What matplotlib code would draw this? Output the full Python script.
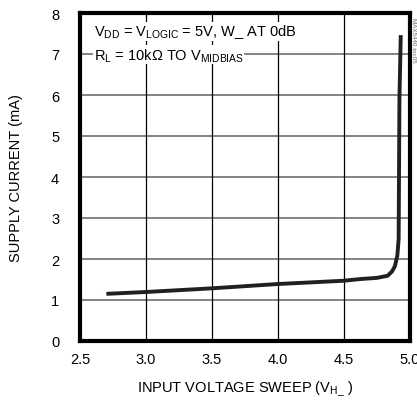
import numpy as np
import matplotlib
matplotlib.use('Agg')
import matplotlib.pyplot as plt

plt.rcParams['font.family'] = ['Liberation Sans Narrow', 'Liberation Sans', 'DejaVu Sans']
plt.rcParams['mathtext.fontset'] = 'custom'
plt.rcParams['mathtext.rm'] = 'Liberation Sans'

# supply current vs input voltage sweep
v_in = [2.70, 3.00, 3.50, 4.00, 4.25, 4.50, 4.62, 4.75, 4.83, 4.865, 4.886, 4.904, 4.914, 4.92, 4.93]
i_supply = [1.15, 1.195, 1.285, 1.39, 1.43, 1.47, 1.51, 1.54, 1.59, 1.70, 1.83, 2.08, 2.49, 5.90, 7.46]

x_ticks = [2.5, 3.0, 3.5, 4.0, 4.5, 5.0]
x_labels = ['2.5', '3.0', '3.5', '4.0', '4.5', '5.0']
y_ticks = [0, 1, 2, 3, 4, 5, 6, 7, 8]

fig = plt.figure(figsize=(4.17, 4.02), dpi=100)
ax = fig.add_axes([80 / 417, 60 / 402, 330 / 417, 328 / 402])

ax.set_xlim(2.5, 5.0)
ax.set_ylim(0, 8)
ax.set_xticks(x_ticks)
ax.set_xticklabels(x_labels)
ax.set_yticks(y_ticks)
ax.tick_params(length=0, labelsize=10.5)
ax.tick_params(axis='x', pad=8)
ax.tick_params(axis='y', pad=15)

for y in y_ticks[1:-1]:
    ax.axhline(y, color='#7a7a7a', lw=1.3, zorder=1)
for x in x_ticks[1:-1]:
    ax.axvline(x, color='black', lw=0.9, zorder=1)

for s in ax.spines.values():
    s.set_linewidth(3)

ax.plot(v_in, i_supply, color='#231f20', lw=2.8, solid_capstyle='butt', zorder=3)

ax.text(2.605, 7.55, r'$\mathregular{V_{DD}}$ = $\mathregular{V_{LOGIC}}$ = 5V, W_ AT 0dB',
        fontsize=10.5, va='center', ha='left', zorder=4,
        bbox=dict(facecolor='white', edgecolor='none', pad=0.5))
ax.text(2.605, 6.98, r'$\mathregular{R_L}$ = 10k$\mathregular{\Omega}$ TO $\mathregular{V_{MIDBIAS}}$',
        fontsize=10.5, va='center', ha='left', zorder=4,
        bbox=dict(facecolor='white', edgecolor='none', pad=0.5))

ax.set_xlabel(r'INPUT VOLTAGE SWEEP ($\mathregular{V_{H\_}}$ )', fontsize=10.5, labelpad=9)
ax.set_ylabel('SUPPLY CURRENT (mA)', fontsize=10.5, labelpad=20)

fig.text(0.992, 0.90, 'MAX5440 toc05', rotation=270, fontsize=4.5, color='#666666',
         ha='center', va='center')

fig.savefig('out.png', dpi=100)
